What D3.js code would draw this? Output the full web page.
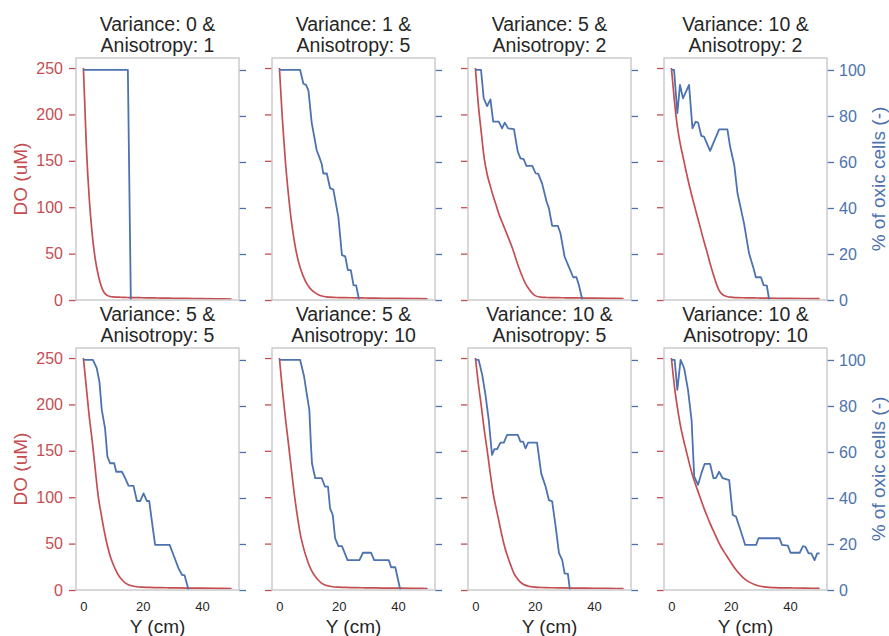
<!DOCTYPE html>
<html>
<head>
<meta charset="utf-8">
<script src="https://cdn.jsdelivr.net/npm/d3@7"></script>
<style>
  body { margin: 0; background: #fff; }
  svg text { font-family: "Liberation Sans", Arial, sans-serif; }
</style>
</head>
<body>
<div id="chart"></div>
<script>
// Y positions (cm) shared by all DO curves
const yGrid = [0,1,2,3,4,5,6,7,8,9,10,11,12,13,14,15,16,17,18,19,20,22,24,26,28,30,32,35,40,45,50]

// DO (uM) per panel
const doVar0Ani1 = [250,165,108,70,44,27,15,8,5,3.8,3.3,3.1,3,2.9,2.8,2.7,2.6,2.6,2.5,2.5,2.4,2.3,2.2,2.1,2,1.9,1.8,1.7,1.5,1.3,1.1]
const doVar1Ani5 = [250,195,150,115,86,64,47,35,26,19,14,10.5,8,6,4.6,3.8,3.3,3,2.8,2.7,2.6,2.5,2.4,2.3,2.2,2.1,2,1.9,1.7,1.5,1.3]
const doVar5Ani2 = [250,210,180,152,135,123,112,102,92,84,76,68,60,51,41,32,24,17,12,8,5,3,2.7,2.6,2.5,2.4,2.3,2.2,2,1.8,1.6]
const doVar10Ani2 = [250,215,187,168,153,138,124,111,99,87,75,63,52,40,29,19,11,6.5,4.5,3.5,3,2.6,2.4,2.3,2.2,2.1,2,1.9,1.8,1.6,1.5]
const doVar5Ani5 = [250,218,186,160,130,101,82,64,49,37,28,21,15,11,8,6,4.8,4,3.5,3.2,3,2.8,2.6,2.5,2.4,2.3,2.2,2.1,2,1.8,1.6]
const doVar5Ani10 = [250,216,186,159,131,104,81,61,47,36,27,20,15,11,8,6,4.8,4,3.5,3.2,3,2.8,2.6,2.5,2.4,2.3,2.2,2.1,2,1.8,1.6]
const doVar10Ani5 = [250,222,198,172,150,126,104,88,73,58,45,35,26,18,13,9,6.5,5,4,3.5,3,2.7,2.5,2.4,2.3,2.2,2.1,2,1.9,1.7,1.5]
const doVar10Ani10 = [250,220,197,178,163,150,137,125,115,106,97,88,80,72,65,58,51,45,40,35,30,21,14,9,6,4,3,2.5,2.2,2,1.8]

// % of oxic cells per panel: Y (cm) and value
const oxYVar0Ani1 = [0,15,16]
const oxVar0Ani1 = [100,100,0]
const oxYVar1Ani5 = [0,7,8.1,9,9.8,10.9,12.6,13.5,14.3,14.8,16,17.1,18.2,19.9,21.1,22.2,23.1,24.1,25,25.9,26.9]
const oxVar1Ani5 = [100,100,94,93.5,91,77,65,62,59,55,55,48.6,48,36,19.5,19,13,13,6.5,6.3,0]
const oxYVar5Ani2 = [0,1.9,2.8,3.95,5.07,6,7.9,9,9.9,11.05,13,14.3,15.2,16.3,17.2,19.2,20.3,21.2,22.5,24,24.8,25.9,27.8,28.7,30.1,31.5,33,34.1,34.9,36.1]
const oxVar5Ani2 = [100,100,87.7,84.3,87.2,77.5,77.5,74.6,77.1,74.6,74.3,64.5,61.6,61.2,58.3,58.3,55.1,54.8,50.7,42.8,39.9,32.2,32.2,29,18.8,14.5,9.9,9.9,6.5,0]
const oxYVar10Ani2 = [0,0.9,2,2.9,3.9,5.95,7.1,8.2,9,10.1,11,13.05,16.1,18.9,19.8,21.2,22.3,24.5,26.2,27.7,28.5,30.2,31.1,32.2,33]
const oxVar10Ani2 = [100,100,81.2,93.5,87.7,93.5,74.6,77.5,77.1,71.3,71,64.8,74.2,74.2,66.7,58.7,46.4,33.3,20.3,13.8,9.9,9.9,6.5,6.2,0]
const oxYVar5Ani5 = [0,3.2,4.5,5.4,6.2,7.3,8.1,9,10.4,11.05,13,14.1,15.2,16.9,18.05,19.2,20.3,21.4,22.2,23.5,24.2,29.1,30.4,32.1,33.3,34.1,35.5]
const oxVar5Ani5 = [100,100,96.4,90.6,78.3,70.3,58,55.1,55.1,51.4,51.4,48.6,45.4,45.3,38.7,38.7,42,38.7,38.7,26.1,19.6,19.6,15.2,9.4,6.5,6.5,0]
const oxYVar5Ani10 = [0,7,8.3,9.2,10.1,10.6,11,12.1,14.3,15.4,16.4,17.1,18,18.8,19.9,21.1,23,27,28.2,30.9,32,36.9,37.7,39.1,40.8]
const oxVar5Ani10 = [100,100,93,85.5,78.3,64,55,48.6,48.6,44.9,44.9,35.5,32.6,22.5,19.1,19.1,13,13,16.2,16.2,13,13,9.9,9.9,0]
const oxYVar10Ani5 = [0,1.1,2.3,3.4,4.5,5.6,6.4,7.3,8.45,9.6,10.7,14.3,15.2,16.1,16.9,17.8,20.8,22.2,23.7,24.8,25.9,27,28.2,29.3,30.1,31.2,31.9]
const oxVar10Ani5 = [100,100,93.5,84.8,73.9,58.7,61.2,61.2,64.1,64.1,67.4,67.4,64.5,64.5,61.6,64.1,64.1,50.7,44.9,39.1,38.5,28.3,16,13,7.2,7,0]
const oxYVar10Ani10 = [0,1.1,2,3.1,4.3,5.6,6.8,7.7,9,10.1,11.2,13.05,14.2,15,16.1,17.3,19.5,20.7,21.8,23.3,24.9,28.6,29.4,36.5,37.3,39.3,40.2,43.3,44.4,45.2,46.3,47.2,48.3,49.2,50]
const oxVar10Ani10 = [100,100,87,100,96.4,87,73.9,49.3,45.7,50.7,54.8,54.8,48.6,48.6,51.4,48.6,47.8,32.6,31.9,26.1,19.6,19.6,22.5,22.5,19.6,19.3,16.2,16.2,19.1,18.8,15.9,15.9,13,15.9,15.9]

const variances = [0, 1, 5, 10, 5, 5, 10, 10]
const anisotropies = [1, 5, 2, 2, 5, 10, 5, 10]
const doSeries = [doVar0Ani1, doVar1Ani5, doVar5Ani2, doVar10Ani2, doVar5Ani5, doVar5Ani10, doVar10Ani5, doVar10Ani10]
const oxYSeries = [oxYVar0Ani1, oxYVar1Ani5, oxYVar5Ani2, oxYVar10Ani2, oxYVar5Ani5, oxYVar5Ani10, oxYVar10Ani5, oxYVar10Ani10]
const oxSeries = [oxVar0Ani1, oxVar1Ani5, oxVar5Ani2, oxVar10Ani2, oxVar5Ani5, oxVar5Ani10, oxVar10Ani5, oxVar10Ani10]

const doTicks = [0, 50, 100, 150, 200, 250]
const oxTicks = [0, 20, 40, 60, 80, 100]
const yTicks = [0, 20, 40]

const width = 889
const height = 636
const red = '#c44e52'
const blue = '#4c72b0'
const textColor = '#262626'
const panelLeft = [76, 272, 468, 664]
const rowTop = [58, 348]
const panelW = 163
const panelH = 242

const svg = d3.select('#chart').append('svg')
  .attr('width', width)
  .attr('height', height)

const x = d3.scaleLinear().domain([-2.5, 52.5]).range([0, panelW])
const yDO = d3.scaleLinear().domain([0, 260.8]).range([panelH, 0])
const yOx = d3.scaleLinear().domain([0, 105.2]).range([panelH, 0])

const doLine = d3.line()
  .x(d => x(d[0]))
  .y(d => yDO(d[1]))
  .curve(d3.curveMonotoneX)

const oxLine = d3.line()
  .x(d => x(d[0]))
  .y(d => yOx(d[1]))

function styleAxis(g, color, size) {
  g.select('.domain').remove()
  g.selectAll('.tick line').attr('stroke', color).attr('stroke-width', 1.3)
  g.selectAll('.tick text')
    .attr('fill', color)
    .style('font-size', size)
    .style('font-family', '"Liberation Sans", Arial, sans-serif')
}

doSeries.forEach((doVals, i) => {
  const col = i % 4
  const row = Math.floor(i / 4)
  const g = svg.append('g')
    .attr('transform', `translate(${panelLeft[col]}, ${rowTop[row]})`)

  // left DO axis (labels only on first column)
  g.append('g')
    .call(d3.axisLeft(yDO).tickValues(doTicks).tickSize(7).tickPadding(6)
      .tickFormat(col === 0 ? d3.format('d') : ''))
    .call(ax => styleAxis(ax, red, '16px'))

  // right oxic axis (labels only on last column)
  g.append('g')
    .attr('transform', `translate(${panelW}, 0)`)
    .call(d3.axisRight(yOx).tickValues(oxTicks).tickSize(7).tickPadding(5)
      .tickFormat(col === 3 ? d3.format('d') : ''))
    .call(ax => styleAxis(ax, blue, '16px'))

  if (row === 1) {
    g.append('g')
      .attr('transform', `translate(0, ${panelH})`)
      .call(d3.axisBottom(x).tickValues(yTicks).tickSize(0).tickPadding(12))
      .call(ax => styleAxis(ax, textColor, '13px'))

    g.append('text')
      .attr('x', panelW / 2)
      .attr('y', panelH + 43)
      .attr('text-anchor', 'middle')
      .attr('fill', textColor)
      .style('font-size', '19px')
      .text('Y (cm)')
  }

  g.append('path')
    .datum(d3.zip(yGrid, doVals))
    .attr('fill', 'none')
    .attr('stroke', red)
    .attr('stroke-width', 1.7)
    .attr('d', doLine)

  g.append('path')
    .datum(d3.zip(oxYSeries[i], oxSeries[i]))
    .attr('fill', 'none')
    .attr('stroke', blue)
    .attr('stroke-width', 1.8)
    .attr('stroke-linejoin', 'round')
    .attr('d', oxLine)

  g.append('rect')
    .attr('width', panelW)
    .attr('height', panelH)
    .attr('fill', 'none')
    .attr('stroke', '#cccccc')
    .attr('stroke-width', 1.5)

  const title = g.append('text')
    .attr('text-anchor', 'middle')
    .attr('fill', textColor)
    .style('font-size', '19.5px')
  title.append('tspan')
    .attr('x', panelW / 2).attr('y', -27)
    .text(`Variance: ${variances[i]} &`)
  title.append('tspan')
    .attr('x', panelW / 2).attr('y', -6.3)
    .text(`Anisotropy: ${anisotropies[i]}`)
})

rowTop.forEach(top => {
  const cy = top + panelH / 2
  svg.append('text')
    .attr('transform', `translate(27, ${cy}) rotate(-90)`)
    .attr('text-anchor', 'middle')
    .attr('fill', red)
    .style('font-size', '19px')
    .text('DO (uM)')
  svg.append('text')
    .attr('transform', `translate(885, ${cy}) rotate(-90)`)
    .attr('text-anchor', 'middle')
    .attr('fill', blue)
    .style('font-size', '19px')
    .text('% of oxic cells (-)')
})
</script>
</body>
</html>
